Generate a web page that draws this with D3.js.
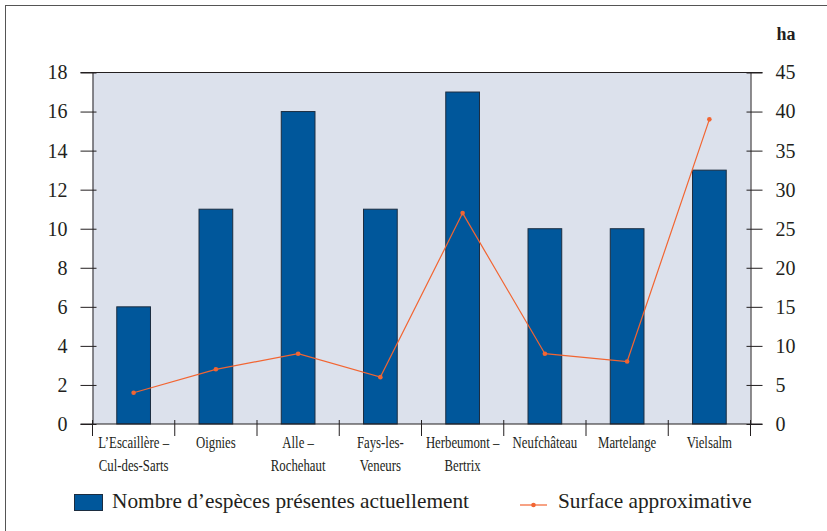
<!DOCTYPE html>
<html>
<head>
<meta charset="utf-8">
<script src="https://cdn.jsdelivr.net/npm/d3@7"></script>
<style>
  html, body { margin: 0; padding: 0; background: #fff; }
  svg { display: block; }
</style>
</head>
<body>
<svg id="chart" width="827" height="531"></svg>
<script>
// Sites (two-line labels), species counts and approximate area in hectares
const sites = [
  ["L’Escaillère –", "Cul-des-Sarts"],
  ["Oignies"],
  ["Alle –", "Rochehaut"],
  ["Fays-les-", "Veneurs"],
  ["Herbeumont –", "Bertrix"],
  ["Neufchâteau"],
  ["Martelange"],
  ["Vielsalm"]
];
const speciesCount = [6, 11, 16, 11, 17, 10, 10, 13];
const surfaceHa = [4, 7, 9, 6, 27, 9, 8, 39];
const leftTicks = [0, 2, 4, 6, 8, 10, 12, 14, 16, 18];
const rightTicks = [0, 5, 10, 15, 20, 25, 30, 35, 40, 45];
const legendLabels = ["Nombre d’espèces présentes actuellement", "Surface approximative"];
const rightUnit = "ha";

const FONT = "'Liberation Serif', Tinos, 'Times New Roman', 'DejaVu Serif', serif";
const INK = "#231f20";
const ORANGE = "#f26532";
const BLUE = "#00579b";

const svg = d3.select("#chart");
const m = { left: 92.5, right: 750.5, top: 72.5, bottom: 424 };

// outer frame
svg.append("rect").attr("x", 5.5).attr("y", 5.5).attr("width", 840).attr("height", 540)
  .attr("fill", "none").attr("stroke", "#555").attr("stroke-width", 1);

const x = d3.scaleBand().domain(d3.range(sites.length)).range([m.left, m.right]);
const yL = d3.scaleLinear().domain([0, 18]).range([m.bottom, m.top]);
const yR = d3.scaleLinear().domain([0, 45]).range([m.bottom, m.top]);

// plot background
svg.append("rect").attr("x", m.left).attr("y", m.top)
  .attr("width", m.right - m.left).attr("height", m.bottom - m.top)
  .attr("fill", "#dce1ec");

// bars
const barW = x.bandwidth() * 0.41;
svg.append("g").selectAll("rect").data(speciesCount).join("rect")
  .attr("x", (d, i) => x(i) + x.bandwidth() / 2 - barW / 2)
  .attr("y", d => yL(d))
  .attr("width", barW)
  .attr("height", d => yL(0) - yL(d))
  .attr("fill", BLUE)
  .attr("stroke", "#1c2d40").attr("stroke-width", 1);

function styleAxis(g) {
  g.attr("font-family", null).attr("font-size", null);
  g.select(".domain").attr("stroke", INK);
  g.selectAll(".tick line").attr("stroke", INK);
  g.selectAll("text").attr("font-family", FONT).attr("font-size", 20).attr("fill", INK);
}

// left axis
const gl = svg.append("g").attr("transform", `translate(${m.left},0)`)
  .call(d3.axisLeft(yL).tickValues(leftTicks).tickSize(12).tickSizeOuter(0).tickPadding(13));
gl.selectAll(".tick line").attr("x2", -12).attr("x1", 4);
styleAxis(gl);

// right axis
const gr = svg.append("g").attr("transform", `translate(${m.right},0)`)
  .call(d3.axisRight(yR).tickValues(rightTicks).tickSize(12).tickSizeOuter(0).tickPadding(13));
gr.selectAll(".tick line").attr("x1", -4).attr("x2", 12);
styleAxis(gr);

// top and bottom rules across the plot
[m.top, m.bottom].forEach(yy => {
  svg.append("line").attr("x1", m.left - 12).attr("x2", m.right + 12)
    .attr("y1", yy).attr("y2", yy).attr("stroke", INK);
});

// category separator ticks
const bounds = d3.range(sites.length + 1).map(i => m.left + i * x.bandwidth());
svg.append("g").selectAll("line").data(bounds).join("line")
  .attr("x1", d => d).attr("x2", d => d)
  .attr("y1", m.bottom - 4).attr("y2", m.bottom + 12)
  .attr("stroke", INK);

// category labels, set in a narrow face
const lab = svg.append("g").selectAll("text").data(sites).join("text")
  .attr("transform", (d, i) => `translate(${x(i) + x.bandwidth() / 2},448) scale(0.8,1)`)
  .attr("text-anchor", "middle")
  .attr("font-family", FONT).attr("font-size", 16).attr("fill", INK);
lab.selectAll("tspan").data(d => d).join("tspan")
  .attr("x", 0)
  .attr("dy", (d, i) => i === 0 ? 0 : 23.5)
  .text(d => d);

// surface line
const line = d3.line().x((d, i) => x(i) + x.bandwidth() / 2).y(d => yR(d));
svg.append("path").datum(surfaceHa).attr("d", line)
  .attr("fill", "none").attr("stroke", ORANGE).attr("stroke-width", 1.2);
svg.append("g").selectAll("circle").data(surfaceHa).join("circle")
  .attr("cx", (d, i) => x(i) + x.bandwidth() / 2).attr("cy", d => yR(d))
  .attr("r", 2.3).attr("fill", ORANGE);

// unit label
svg.append("text").attr("x", 786).attr("y", 40).attr("text-anchor", "middle")
  .attr("font-family", FONT).attr("font-size", 18).attr("font-weight", "bold").attr("fill", INK)
  .text(rightUnit);

// legend
svg.append("rect").attr("x", 74.5).attr("y", 494.5).attr("width", 28).attr("height", 16)
  .attr("fill", BLUE).attr("stroke", "#1c2d40");
svg.append("text").attr("transform", "translate(112,508) scale(0.97,1)")
  .attr("font-family", FONT).attr("font-size", 22).attr("fill", INK).text(legendLabels[0]);
svg.append("line").attr("x1", 520).attr("x2", 547).attr("y1", 505).attr("y2", 505)
  .attr("stroke", ORANGE).attr("stroke-width", 1.2);
svg.append("circle").attr("cx", 533.5).attr("cy", 505).attr("r", 2.3).attr("fill", ORANGE);
svg.append("text").attr("transform", "translate(558,508) scale(0.97,1)")
  .attr("font-family", FONT).attr("font-size", 22).attr("fill", INK).text(legendLabels[1]);
</script>
</body>
</html>
